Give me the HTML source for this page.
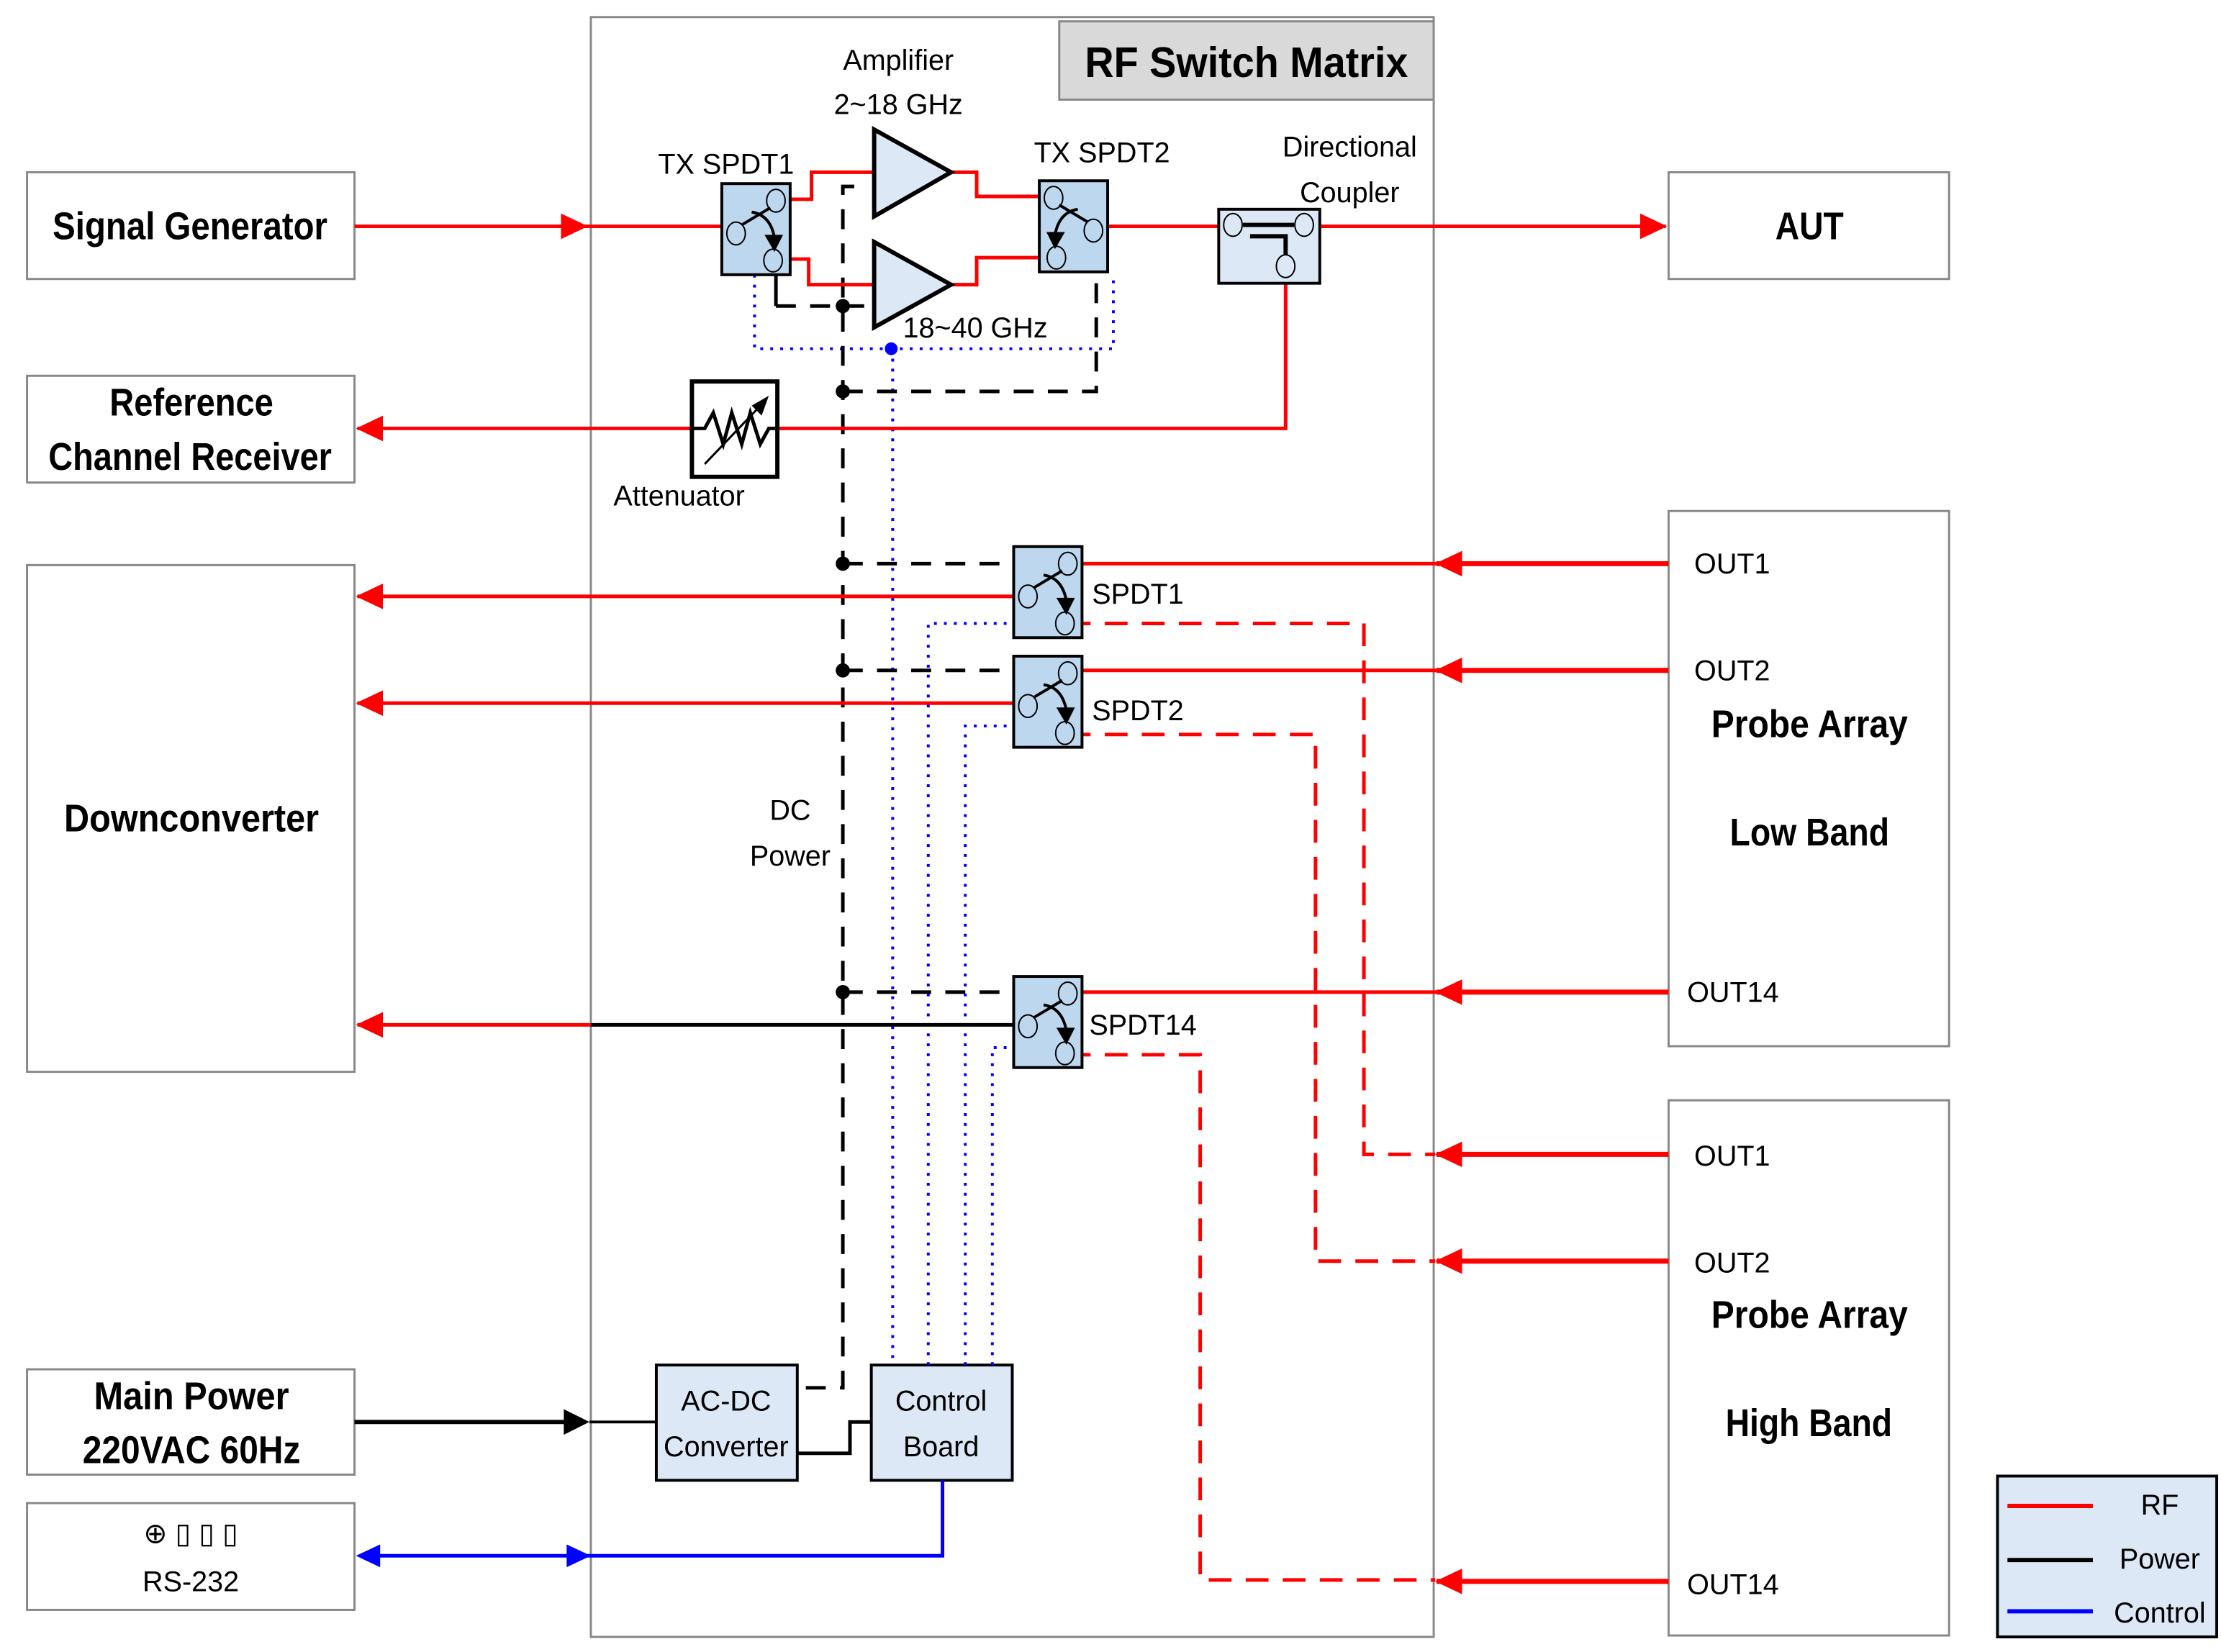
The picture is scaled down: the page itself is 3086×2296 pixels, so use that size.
<!DOCTYPE html>
<html><head><meta charset="utf-8"><style>
html,body{margin:0;padding:0;background:#fff;}
svg{display:block;}
text{font-family:"Liberation Sans",sans-serif;fill:#000;}
.b{font-weight:bold;font-size:27px;}
.n{font-size:20px;}
</style></head><body>
<svg width="3086" height="2296" viewBox="0 0 1560 1160.6" preserveAspectRatio="none" xmlns="http://www.w3.org/2000/svg">
<defs>
<marker id="ar" markerWidth="20" markerHeight="20" refX="18" refY="10" orient="auto" markerUnits="userSpaceOnUse" viewBox="0 0 20 20"><path d="M0,1 L19,10 L0,19z" fill="#f00"/></marker>
<g id="sw">
<rect x="0" y="0" width="48" height="64" fill="#bdd7ee" stroke="#000" stroke-width="2"/>
<ellipse cx="10" cy="35" rx="6.5" ry="8" fill="#bdd7ee" stroke="#000" stroke-width="1"/>
<ellipse cx="38" cy="12" rx="6.5" ry="8" fill="#bdd7ee" stroke="#000" stroke-width="1"/>
<ellipse cx="36" cy="54" rx="6.5" ry="8" fill="#bdd7ee" stroke="#000" stroke-width="1"/>
<line x1="14" y1="29" x2="34" y2="17" stroke="#000" stroke-width="2"/>
<path d="M21,20 Q34,22 37,38" fill="none" stroke="#000" stroke-width="2"/>
<path d="M30,36 L43,36 L37,48z" fill="#000"/>
</g>
</defs>

<!-- main matrix box -->
<rect x="415" y="12" width="592" height="1138" fill="none" stroke="#888" stroke-width="1.5"/>
<rect x="744" y="15" width="263" height="55" fill="#d9d9d9" stroke="#888" stroke-width="1.5"/>
<text x="762" y="54" class="b" style="font-size:30px" textLength="227" lengthAdjust="spacingAndGlyphs">RF Switch Matrix</text>

<!-- left boxes -->
<g fill="#fff" stroke="#888" stroke-width="1.5">
<rect x="19" y="121" width="230" height="75"/>
<rect x="19" y="264" width="230" height="75"/>
<rect x="19" y="397" width="230" height="356"/>
<rect x="19" y="962" width="230" height="74"/>
<rect x="19" y="1056" width="230" height="75"/>
<rect x="1172" y="121" width="197" height="75"/>
<rect x="1172" y="359" width="197" height="376"/>
<rect x="1172" y="773" width="197" height="376"/>
</g>
<!-- AC-DC / Control -->
<rect x="461" y="959" width="99" height="81" fill="#dce8f5" stroke="#000" stroke-width="2"/>
<rect x="612" y="959" width="99" height="81" fill="#dce8f5" stroke="#000" stroke-width="2"/>

<g class="b" lengthAdjust="spacingAndGlyphs">
<text x="37" y="168" textLength="193" lengthAdjust="spacingAndGlyphs">Signal Generator</text>
<text x="77" y="292" textLength="115" lengthAdjust="spacingAndGlyphs">Reference</text>
<text x="34" y="330" textLength="199" lengthAdjust="spacingAndGlyphs">Channel Receiver</text>
<text x="45" y="584" textLength="179" lengthAdjust="spacingAndGlyphs">Downconverter</text>
<text x="66" y="990" textLength="137" lengthAdjust="spacingAndGlyphs">Main Power</text>
<text x="58" y="1028" textLength="153" lengthAdjust="spacingAndGlyphs">220VAC 60Hz</text>
<text x="1247" y="168" textLength="48" lengthAdjust="spacingAndGlyphs">AUT</text>
<text x="1202" y="518" textLength="138" lengthAdjust="spacingAndGlyphs">Probe Array</text>
<text x="1215" y="594" textLength="112" lengthAdjust="spacingAndGlyphs">Low Band</text>
<text x="1202" y="933" textLength="138" lengthAdjust="spacingAndGlyphs">Probe Array</text>
<text x="1212" y="1009" textLength="117" lengthAdjust="spacingAndGlyphs">High Band</text>
</g>
<g class="n" text-anchor="middle">
<text x="134" y="1084">⊕ ▯ ▯ ▯</text>
<text x="134" y="1118">RS-232</text>
<text x="631" y="49">Amplifier</text>
<text x="631" y="80">2~18 GHz</text>
<text x="510" y="122">TX SPDT1</text>
<text x="774" y="114">TX SPDT2</text>
<text x="948" y="110">Directional</text>
<text x="948" y="142">Coupler</text>
<text x="685" y="237">18~40 GHz</text>
<text x="477" y="355">Attenuator</text>
<text x="555" y="576">DC</text>
<text x="555" y="608">Power</text>
<text x="510" y="991">AC-DC</text>
<text x="510" y="1023">Converter</text>
<text x="661" y="991">Control</text>
<text x="661" y="1023">Board</text>
</g>
<g class="n">
<text x="767" y="424">SPDT1</text>
<text x="767" y="506">SPDT2</text>
<text x="765" y="727">SPDT14</text>
<text x="1190" y="403">OUT1</text>
<text x="1190" y="478">OUT2</text>
<text x="1185" y="704">OUT14</text>
<text x="1190" y="819">OUT1</text>
<text x="1190" y="894">OUT2</text>
<text x="1185" y="1120">OUT14</text>
</g>

<!-- legend -->
<rect x="1403" y="1037" width="154" height="113" fill="#dce8f5" stroke="#000" stroke-width="2"/>
<line x1="1410" y1="1058" x2="1470" y2="1058" stroke="#f00" stroke-width="3"/>
<line x1="1410" y1="1096" x2="1470" y2="1096" stroke="#000" stroke-width="3"/>
<line x1="1410" y1="1132" x2="1470" y2="1132" stroke="#00f" stroke-width="3"/>
<text x="1517" y="1064" class="n" text-anchor="middle">RF</text>
<text x="1517" y="1102" class="n" text-anchor="middle">Power</text>
<text x="1517" y="1140" class="n" text-anchor="middle">Control</text>

<!-- control dotted blue -->
<g fill="none" stroke="#00f" stroke-width="2" stroke-dasharray="2,5">
<path d="M530,193 V245 H782 V193"/>
<path d="M627,245 V959"/>
<path d="M652,959 V438 H712"/>
<path d="M678,959 V510 H712"/>
<path d="M697,959 V736 H712"/>
</g>
<circle cx="626" cy="245" r="4.5" fill="#00f"/>

<!-- DC power dashed black -->
<g fill="none" stroke="#000" stroke-width="2.5" stroke-dasharray="14,10">
<path d="M600,131 H592 V975 H562"/>
<path d="M545,215 H614"/>
<path d="M592,275 H770 V192"/>
<path d="M592,396 H712"/>
<path d="M592,471 H712"/>
<path d="M592,697 H712"/>
</g>
<line x1="545" y1="193" x2="545" y2="215" stroke="#000" stroke-width="2.5"/>
<g fill="#000"><circle cx="592" cy="215" r="5"/><circle cx="592" cy="275" r="5"/><circle cx="592" cy="396" r="5"/><circle cx="592" cy="471" r="5"/><circle cx="592" cy="697" r="5"/></g>

<!-- RF solid red -->
<g fill="none" stroke="#f00" stroke-width="2.5">
<path d="M249,159 H412" marker-end="url(#ar)"/>
<path d="M410,159 H517"/>
<path d="M546,140 H570 V121 H614"/>
<path d="M546,182 H568 V200 H614"/>
<path d="M668,121 H686 V138 H738"/>
<path d="M668,200 H686 V181 H738"/>
<path d="M768,159 H857"/>
<path d="M927,159 H1170" marker-end="url(#ar)"/>
<path d="M903,190 V301 H486"/>
<path d="M486,301 H251" marker-end="url(#ar)"/>
<path d="M722,419 H251" marker-end="url(#ar)"/>
<path d="M722,494 H251" marker-end="url(#ar)"/>
<path d="M415,720 H251" marker-end="url(#ar)"/>
<path d="M750,396 H1172"/>
<path d="M750,471 H1172"/>
<path d="M750,697 H1172"/>
<path d="M1172,396 H1009" marker-end="url(#ar)" stroke-width="3.5"/>
<path d="M1172,471 H1009" marker-end="url(#ar)" stroke-width="3.5"/>
<path d="M1172,697 H1009" marker-end="url(#ar)" stroke-width="3.5"/>
<path d="M1172,811 H1009" marker-end="url(#ar)" stroke-width="3.5"/>
<path d="M1172,886 H1009" marker-end="url(#ar)" stroke-width="3.5"/>
<path d="M1172,1111 H1009" marker-end="url(#ar)" stroke-width="3.5"/>
</g>
<g fill="none" stroke="#f00" stroke-width="2.5" stroke-dasharray="16,10">
<path d="M750,438 H958 V811 H1008"/>
<path d="M750,516 H924 V886 H1008"/>
<path d="M750,741 H843 V1110 H1008"/>
</g>
<line x1="722" y1="720" x2="415" y2="720" stroke="#000" stroke-width="2.5"/>

<!-- power lines -->
<path d="M249,999 H400" stroke="#000" stroke-width="3" fill="none"/>
<path d="M396,990 L414,999 L396,1008z" fill="#000"/>
<path d="M414,999 H461" stroke="#000" stroke-width="2" fill="none"/>
<path d="M560,1021 H597 V999 H612" stroke="#000" stroke-width="2.5" fill="none"/>

<!-- RS-232 blue -->
<path d="M262,1093 H662 V1040" stroke="#00f" stroke-width="2.5" fill="none"/>
<path d="M267,1085 L250,1093 L267,1101z" fill="#00f"/>
<path d="M398,1085 L415,1093 L398,1101z" fill="#00f"/>

<!-- amplifiers -->
<path d="M614,91 L614,152 L668,121z" fill="#dce8f5" stroke="#000" stroke-width="3"/>
<path d="M614,170 L614,230 L668,200z" fill="#dce8f5" stroke="#000" stroke-width="3"/>

<!-- switches -->
<use href="#sw" x="507" y="129"/>
<use href="#sw" transform="translate(778,127) scale(-1,1)"/>
<use href="#sw" x="712" y="384"/>
<use href="#sw" x="712" y="461"/>
<use href="#sw" x="712" y="686"/>

<!-- coupler -->
<rect x="856" y="147" width="71" height="52" fill="#dce8f5" stroke="#000" stroke-width="2"/>
<ellipse cx="866" cy="158" rx="6.5" ry="8" fill="#dce8f5" stroke="#000"/>
<ellipse cx="916" cy="158" rx="6.5" ry="8" fill="#dce8f5" stroke="#000"/>
<ellipse cx="903" cy="187" rx="6.5" ry="8" fill="#dce8f5" stroke="#000"/>
<path d="M873,158 H909 M878,166 H903 V179" stroke="#000" stroke-width="3" fill="none"/>

<!-- attenuator -->
<rect x="486" y="268" width="60" height="67" fill="#fff" stroke="#000" stroke-width="3"/>
<path d="M486,301 H495 L501,290 L508,312 L514,290 L521,312 L527,290 L534,312 L540,301 H546" fill="none" stroke="#000" stroke-width="2.5"/>
<line x1="495" y1="326" x2="536" y2="283" stroke="#000" stroke-width="1.5"/>
<path d="M540,278 L528,285 L535,292z" fill="#000"/>
</svg>
</body></html>
